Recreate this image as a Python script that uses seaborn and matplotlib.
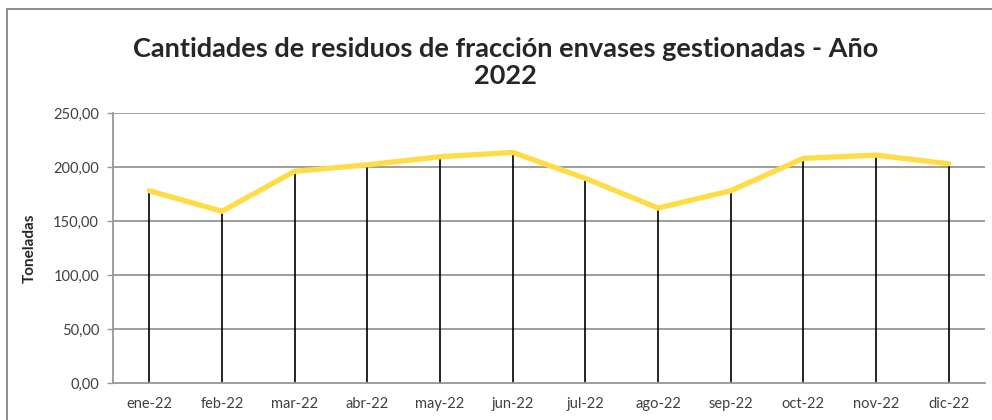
import matplotlib
matplotlib.use("Agg")
import matplotlib.pyplot as plt
import seaborn as sns
import pandas as pd
from matplotlib.lines import Line2D
from matplotlib.ticker import FuncFormatter

# monthly tonnage
meses = ['ene-22', 'feb-22', 'mar-22', 'abr-22', 'may-22', 'jun-22',
         'jul-22', 'ago-22', 'sep-22', 'oct-22', 'nov-22', 'dic-22']
toneladas = [178, 159, 196, 202, 209.5, 213.5, 189.5, 162, 178, 208, 211, 203]
yticks = [0, 50, 100, 150, 200, 250]

df = pd.DataFrame({'mes': meses, 'toneladas': toneladas})

sns.set_style("white")
plt.rcParams['font.family'] = ['Lato', 'DejaVu Sans']

fig = plt.figure(figsize=(9.92, 4.2), dpi=100)
ax = fig.add_axes([113 / 992, 37 / 420, (985 - 113) / 992, (383 - 113) / 420])

# grid lines
for v in yticks[1:]:
    ax.axhline(v, color='#969696', lw=1.3, zorder=0)

# drop lines from each point down to the axis
ax.vlines(range(len(meses)), 0, df['toneladas'], color='black', lw=1.2, zorder=2)

sns.lineplot(data=df, x='mes', y='toneladas', ax=ax, color='#FFDC45', lw=3.8,
             sort=False, zorder=3, solid_capstyle='round')

ax.set_xlim(-0.5, len(meses) - 0.5)
ax.set_ylim(0, 250)
ax.set_yticks(yticks)
ax.yaxis.set_major_formatter(FuncFormatter(lambda v, p: f"{v:.2f}".replace('.', ',')))
ax.tick_params(axis='y', length=4, width=1, color='#969696', pad=6,
               labelsize=10.5, labelcolor='#404040', left=True, direction='out')
ax.tick_params(axis='x', length=0, pad=10, labelsize=10.5, labelcolor='#404040')

for s in ['top', 'right']:
    ax.spines[s].set_visible(False)
for s in ['left', 'bottom']:
    ax.spines[s].set_color('#969696')
    ax.spines[s].set_linewidth(1.3)

ax.set_xlabel('')
ax.set_ylabel('Toneladas', fontsize=11, fontweight='bold')
ax.yaxis.set_label_coords(-0.087, 0.5)

fig.text(0.51, 1 - 84 / 420, 'Cantidades de residuos de fracción envases gestionadas - Año\n2022',
         ha='center', va='baseline', fontsize=19.5, fontweight='bold',
         linespacing=1.15)

# chart frame (cropped on right and bottom)
fig.add_artist(Line2D([7 / 992, 7 / 992], [0, 1 - 9 / 420], color='#8c8c8c', lw=1.4,
                      transform=fig.transFigure))
fig.add_artist(Line2D([7 / 992, 1], [1 - 9 / 420, 1 - 9 / 420], color='#8c8c8c', lw=1.4,
                      transform=fig.transFigure))

fig.savefig('out.png', dpi=100)
